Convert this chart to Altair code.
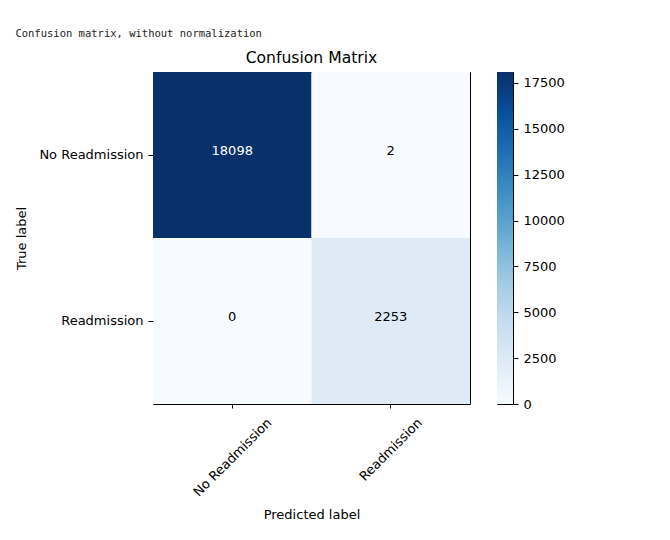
import altair as alt
import pandas as pd
import numpy as np

# ---- data ----
true_labels = ["No Readmission", "No Readmission", "Readmission", "Readmission"]
pred_labels = ["No Readmission", "Readmission", "No Readmission", "Readmission"]
counts = [18098, 2, 0, 2253]
classes = ["No Readmission", "Readmission"]
cbar_ticks = [0, 2500, 5000, 7500, 10000, 12500, 15000, 17500]

df = pd.DataFrame({"true": true_labels, "pred": pred_labels, "count": counts})

blues = ["#f7fbff", "#deebf7", "#c6dbef", "#9ecae1", "#6baed6",
         "#4292c6", "#2171b5", "#08519c", "#08306b"]
vmax = max(counts)
stops_dom = list(np.linspace(0, vmax, len(blues)))
thresh = vmax / 2.0

FONT = "DejaVu Sans"

color_scale = alt.Scale(domain=stops_dom, range=blues, interpolate="rgb")

base = alt.Chart(df).encode(
    x=alt.X("pred:N", sort=classes, scale=alt.Scale(paddingInner=0, paddingOuter=0),
            axis=alt.Axis(title="Predicted label", labelAngle=-45, labelAlign="right",
                          labelBaseline="top", tickSize=4, labelPadding=8,
                          labelOffset={"expr": "length(datum.label) > 12 ? 33 : 25"},
                          titlePadding=10, domain=False)),
    y=alt.Y("true:N", sort=classes, scale=alt.Scale(paddingInner=0, paddingOuter=0),
            axis=alt.Axis(title="True label", tickSize=5, labelPadding=5,
                          titlePadding=10, domain=False)),
)

cells = base.mark_rect().encode(
    color=alt.Color("count:Q", scale=color_scale, legend=None)
)

texts = base.mark_text(font=FONT, fontSize=13, dy=-4).encode(
    text=alt.Text("count:Q", format="d"),
    color=alt.condition(alt.datum["count"] > thresh, alt.value("white"), alt.value("black")),
)

heat = alt.layer(cells, texts).properties(
    width=317, height=332,
    title=alt.TitleParams("Confusion Matrix", fontSize=15.6, fontWeight="normal",
                          font=FONT, color="black", offset=5),
)

grad = alt.Gradient(
    gradient="linear",
    stops=[alt.GradientStop(offset=i / (len(blues) - 1), color=c) for i, c in enumerate(blues)],
    x1=0, y1=1, x2=0, y2=0,
)

cbar = alt.Chart(df).transform_aggregate(
    lo="min(count)", hi="max(count)"
).mark_rect(color=grad).encode(
    y=alt.Y("lo:Q", scale=alt.Scale(domain=[0, vmax], nice=False, zero=True),
            axis=alt.Axis(orient="right", values=cbar_ticks, title=None, tickSize=5,
                          labelPadding=5, grid=False, domain=False, format="d")),
    y2="hi:Q",
    x=alt.value(0),
    x2=alt.value(16),
).properties(width=16, height=332)

chart = alt.hconcat(heat, cbar, spacing=25).properties(
    title=alt.TitleParams("Confusion matrix, without normalization", anchor="start",
                          font="DejaVu Sans Mono", fontSize=10.5, fontWeight="normal",
                          color="#222", offset=11),
    padding={"left": 15, "top": 29, "right": 5, "bottom": 5},
    background="white",
).configure_view(
    stroke="black", strokeWidth=1
).configure_axis(
    labelFont=FONT, titleFont=FONT, labelFontSize=13, titleFontSize=13,
    labelColor="black", titleColor="black", tickColor="black",
    titleFontWeight="normal", grid=False,
)

chart.save("out.html", embed_options={"renderer": "svg", "actions": False})
